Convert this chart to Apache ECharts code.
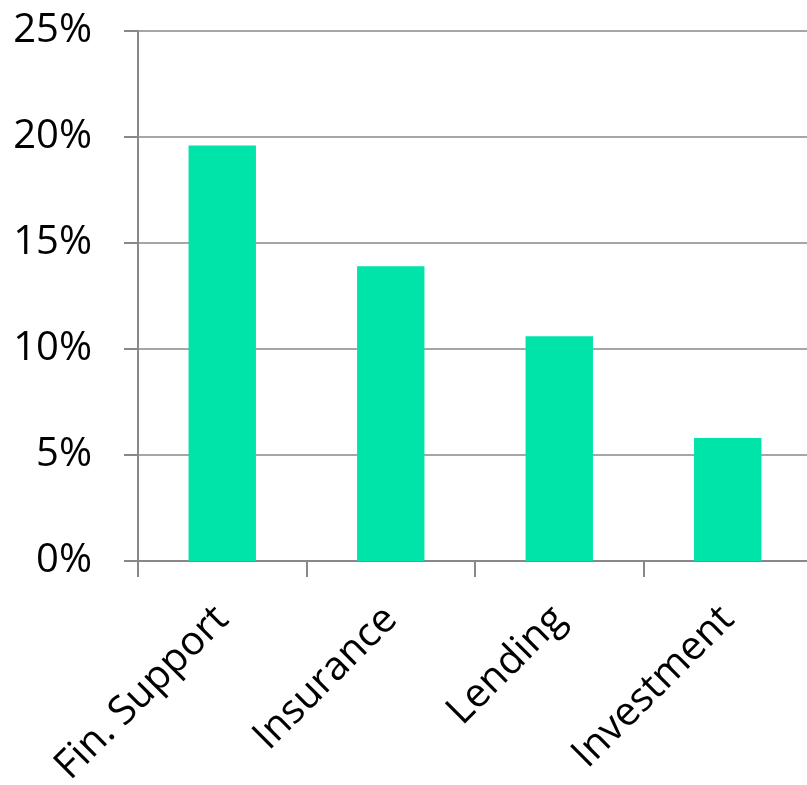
<!DOCTYPE html>
<html>
<head>
<meta charset="utf-8">
<script src="https://cdn.jsdelivr.net/npm/echarts@6/dist/echarts.min.js"></script>
<style>
  html, body { margin: 0; padding: 0; background: #fff; }
  #chart { width: 807px; height: 785px; }
</style>
</head>
<body>
<div id="chart"></div>
<script>
// Share by service category, in percent
const categories = ['Fin. Support', 'Insurance', 'Lending', 'Investment'];
const shares = [19.6, 13.9, 10.6, 5.8];
const yTicks = { min: 0, max: 25, step: 5 };

const FONT = '"Open Sans", sans-serif';
const GRAY = '#888888';

const chart = echarts.init(document.getElementById('chart'), null, { renderer: 'canvas' });
chart.setOption({
  animation: false,
  backgroundColor: '#ffffff',
  // plot area runs a little past the right edge of the canvas
  grid: {
    left: 138, width: 674, top: 31, height: 530,
    containLabel: false,
    outerBoundsMode: 'none'
  },
  xAxis: {
    type: 'category',
    data: categories,
    boundaryGap: true,
    axisLine: { show: true, lineStyle: { color: GRAY, width: 2 } },
    axisTick: { show: true, alignWithLabel: false, length: 16, lineStyle: { color: GRAY, width: 2 } },
    axisLabel: {
      rotate: 45,
      margin: 52,
      interval: 0,
      color: '#000',
      fontFamily: FONT,
      fontSize: 40
    },
    splitLine: { show: false }
  },
  yAxis: {
    type: 'value',
    min: yTicks.min,
    max: yTicks.max,
    interval: yTicks.step,
    axisLine: { show: true, lineStyle: { color: GRAY, width: 2 } },
    axisTick: { show: true, length: 14, lineStyle: { color: GRAY, width: 2 } },
    axisLabel: {
      margin: 46,
      color: '#000',
      fontFamily: FONT,
      fontSize: 40,
      formatter: v => v + '%'
    },
    splitLine: { show: true, lineStyle: { color: GRAY, width: 1.5 } }
  },
  series: [{
    type: 'bar',
    data: shares,
    barWidth: '40%',
    itemStyle: { color: '#00E4AA' }
  }]
});
</script>
</body>
</html>
